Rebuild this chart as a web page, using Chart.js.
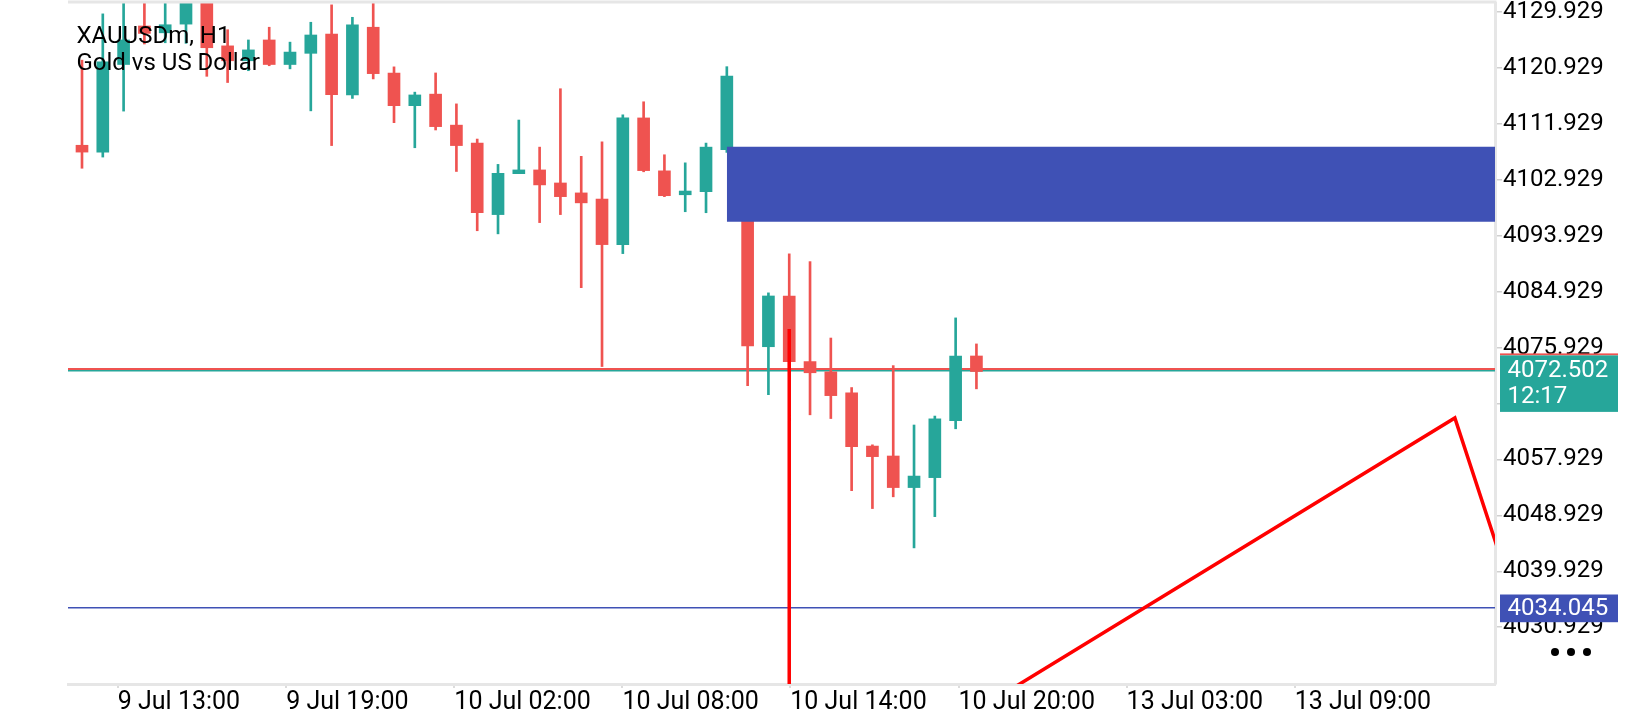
<!DOCTYPE html>
<html>
<head>
<meta charset="utf-8">
<script src="https://cdn.jsdelivr.net/npm/chart.js@4.4.1/dist/chart.umd.min.js"></script>
<style>
html,body{margin:0;padding:0;background:#fff;overflow:hidden}
#wrap{width:1640px;height:720px;position:relative}
</style>
</head>
<body>
<div id="wrap"><canvas id="c" width="1640" height="720"></canvas></div>
<script>
// ---- data (H1 candles, index 0..43) ----
const opens  = [4108.5,4107.4,4121.5,4127.7,4126.6,4128.0,4132.0,4124.5,4122.1,4125.45,4121.5,4123.3,4126.4,4116.6,4127.5,4120.12,4114.87,4116.73,4111.74,4108.85,4097.34,4103.93,4104.53,4102.43,4100.83,4099.84,4092.51,4112.9,4104.38,4100.53,4101.03,4107.8,4107.05,4076.07,4084.24,4073.68,4072.03,4068.65,4060.08,4058.48,4053.4,4055.0,4064.16,4074.58];
const highs  = [4122.2,4129.65,4132.5,4132.0,4132.0,4133.0,4133.5,4127.1,4125.45,4127.5,4125.1,4128.3,4131.1,4129.1,4131.5,4121.12,4117.05,4120.14,4115.16,4109.5,4105.42,4112.56,4108.2,4117.6,4106.72,4109.05,4113.4,4115.5,4106.97,4105.67,4108.85,4121.15,4108.05,4084.74,4091.02,4089.77,4077.47,4069.5,4060.28,4073.03,4063.47,4064.91,4080.71,4076.52];
const lows   = [4104.8,4106.6,4114.0,4124.8,4125.0,4124.9,4119.6,4118.6,4120.5,4121.3,4120.8,4114.04,4108.45,4116.04,4119.18,4112.14,4108.1,4110.96,4104.28,4094.74,4094.24,4103.93,4096.05,4097.34,4085.58,4072.88,4091.06,4104.23,4100.23,4097.8,4097.64,4107.35,4069.8,4068.35,4072.18,4065.11,4064.51,4052.9,4050.02,4051.91,4043.69,4048.72,4062.86,4069.29];
const closes = [4107.4,4121.95,4125.45,4126.5,4127.9,4131.8,4124.2,4122.1,4123.85,4121.5,4123.5,4126.25,4116.64,4127.9,4120.03,4114.87,4116.6,4111.5,4108.45,4097.64,4103.98,4104.53,4102.12,4100.23,4099.23,4092.51,4112.9,4104.42,4100.38,4101.13,4108.2,4119.65,4076.22,4084.24,4073.68,4071.88,4068.2,4059.98,4058.38,4053.4,4055.25,4064.46,4074.58,4072.08];

const xTickIdx    = [1.72, 9.82, 17.9, 25.98, 34.05, 42.14, 50.22, 58.3];
const xTickLabels = ['9 Jul 13:00','9 Jul 19:00','10 Jul 02:00','10 Jul 08:00','10 Jul 14:00','10 Jul 20:00','13 Jul 03:00','13 Jul 09:00'];
const yTickValues = [4030.929,4039.929,4048.929,4057.929,4066.929,4075.929,4084.929,4093.929,4102.929,4111.929,4120.929,4129.929];

const bidPrice = 4072.502;
const askLinePrice = 4072.25;
const lowLevel = 4034.045;
const zoneTop = 4108.27, zoneBottom = 4096.20, zoneStartIdx = 31;
const zigzagIdx    = [34, 34, 66, 70];
const zigzagPrices = [4078.93, 3999.1, 4064.6, 4023.8];
const timeLeft = '12:17';
const titleLines = ['XAUUSDm, H1', 'Gold vs US Dollar'];

// ---- build ----
const GREEN = '#26a69a', RED = '#ef5350', BLUE = '#3f51b5';
const X_MIN = -0.673, X_MAX = 67.93, Y_MIN = 4021.78, Y_MAX = 4131.40;
const up = closes.map((c,i)=> c >= opens[i]);
const bodies = opens.map((o,i)=>({x:i, y:[o, closes[i]]}));
const wicks  = lows.map((l,i)=>({x:i, y:[l, highs[i]]}));
const colors = up.map(u=> u ? GREEN : RED);
const hLine = v => [{x:X_MIN-2,y:v},{x:X_MAX+2,y:v}];

Chart.defaults.font.family = 'Roboto';

const overlay = {
  id: 'overlay',
  afterDatasetsDraw(chart){
    const ctx = chart.ctx, a = chart.chartArea;
    ctx.save();
    ctx.fillStyle = '#000';
    ctx.font = '24px Roboto';
    ctx.textBaseline = 'alphabetic';
    ctx.textAlign = 'left';
    ctx.fillText(titleLines[0], 76.5, 42.5);
    ctx.fillText(titleLines[1], 76.5, 69.5);
    // top frame line
    ctx.strokeStyle = '#e6e6e6';
    ctx.lineWidth = 3;
    ctx.beginPath(); ctx.moveTo(a.left, 2); ctx.lineTo(a.right+1.5, 2); ctx.stroke();
    ctx.restore();
  },
  afterDraw(chart){
    const ctx = chart.ctx, y = chart.scales.y;
    ctx.save();
    const bx = 1500, bw = 118;
    const yb = y.getPixelForValue(bidPrice);
    ctx.fillStyle = RED;
    ctx.fillRect(bx, yb-15.5, bw, 2);
    ctx.fillStyle = GREEN;
    ctx.fillRect(bx, yb-13.5, bw, 56.5);
    ctx.fillStyle = '#fff';
    ctx.font = '24px Roboto';
    ctx.textBaseline = 'middle';
    ctx.textAlign = 'left';
    ctx.fillText(bidPrice.toFixed(3), 1507.5, yb+2);
    ctx.fillText(timeLeft, 1507.5, yb+28.5);
    const yl = y.getPixelForValue(lowLevel);
    ctx.fillStyle = BLUE;
    ctx.fillRect(bx, yl-13.3, bw, 27.7);
    ctx.fillStyle = '#fff';
    ctx.fillText(lowLevel.toFixed(3), 1507.5, yl+1);
    ctx.fillStyle = '#000';
    [1555, 1571, 1587].forEach(cx=>{ ctx.beginPath(); ctx.arc(cx, 652, 4, 0, Math.PI*2); ctx.fill(); });
    ctx.restore();
  }
};

new Chart(document.getElementById('c'), {
  type: 'bar',
  data: {
    datasets: [
      { type:'line', label:'zigzag', data: zigzagIdx.map((x,i)=>({x, y:zigzagPrices[i]})), borderColor:'#f00', borderWidth:3.5, pointRadius:0, tension:0, borderJoinStyle:'miter', fill:false, order:0 },
      { type:'line', label:'zone', data: [{x:zoneStartIdx,y:zoneTop},{x:X_MAX+2,y:zoneTop}], borderWidth:0, borderColor:'rgba(0,0,0,0)', backgroundColor:BLUE, pointRadius:0, fill:{value:zoneBottom}, order:1 },
      { type:'line', label:'level', data: hLine(lowLevel), borderColor:BLUE, borderWidth:1.5, pointRadius:0, fill:false, order:2 },
      { type:'bar', label:'body', data: bodies, backgroundColor: colors, barThickness:12, grouped:false, minBarLength:2, order:3 },
      { type:'bar', label:'wick', data: wicks, backgroundColor: colors, barThickness:2, grouped:false, order:4 },
      { type:'line', label:'bid', data: hLine(bidPrice), borderColor:RED, borderWidth:2, pointRadius:0, fill:false, order:5 },
      { type:'line', label:'ask', data: hLine(askLinePrice), borderColor:GREEN, borderWidth:2, pointRadius:0, fill:false, order:6 }
    ]
  },
  options: {
    responsive:false, animation:false, devicePixelRatio:1,
    layout:{ padding:{ left:68, top:3, right:0, bottom:0 } },
    plugins:{ legend:{display:false}, tooltip:{enabled:false}, title:{display:false} },
    events: [],
    scales:{
      x:{
        type:'linear', position:'bottom', min:X_MIN, max:X_MAX, offset:false,
        afterBuildTicks(s){ s.ticks = xTickIdx.map(v=>({value:v})); },
        afterFit(s){ s.height = 36; s.paddingLeft = 0; s.paddingRight = 0; },
        ticks:{ autoSkip:false, maxRotation:0, minRotation:0, align:'start', padding:0, color:'#000', font:{size:25},
          callback(v, i){ return xTickLabels[i]; } },
        grid:{ drawOnChartArea:false, drawTicks:true, tickLength:4, color:'#dcdcdc', lineWidth:2, offset:false },
        border:{ display:true, color:'#e6e6e6', width:3 }
      },
      y:{
        type:'linear', position:'right', min:Y_MIN, max:Y_MAX,
        afterBuildTicks(s){ s.ticks = yTickValues.map(v=>({value:v})); },
        afterFit(s){ s.width = 145; s.paddingTop = 0; s.paddingBottom = 0; },
        ticks:{ padding:1, color:'#000', font:{size:24}, callback(v){ return Number(v).toFixed(3); } },
        grid:{ drawOnChartArea:false, drawTicks:true, tickLength:7, color:'#d0d0d0', lineWidth:1.5 },
        border:{ display:true, color:'#e6e6e6', width:3 }
      }
    }
  },
  plugins:[overlay]
});
</script>
</body>
</html>
